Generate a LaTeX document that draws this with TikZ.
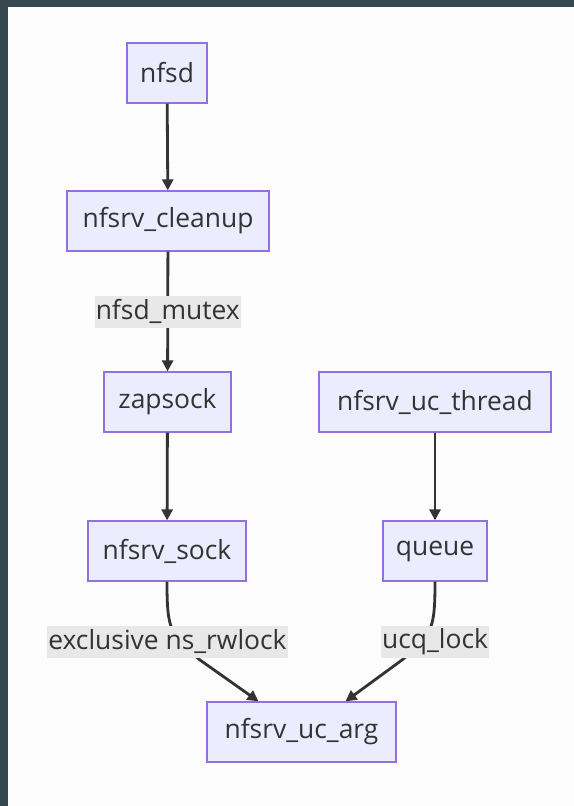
\documentclass[tikz,border=0pt]{standalone}
\usepackage{fontspec}
\setmainfont{Open Sans}
\definecolor{frame}{HTML}{36474F}
\definecolor{canvas}{HTML}{FCFCFC}
\definecolor{nodefill}{HTML}{ECECFF}
\definecolor{nodeline}{HTML}{9370DB}
\definecolor{ink}{HTML}{333333}
\definecolor{labelbg}{HTML}{E8E8E8}
\usetikzlibrary{arrows.meta}

\begin{document}
\begin{tikzpicture}[x=1bp,y=-1bp,>={Triangle[length=11bp,width=11bp]},
  every node/.style={font=\fontsize{26.5}{30}\selectfont,text=ink},
  lockbox/.style={draw=nodeline,fill=nodefill,line width=1.3bp,rectangle,minimum height=60bp,inner xsep=12bp},
  locklabel/.style={fill=labelbg,inner xsep=1bp,inner ysep=2bp,minimum height=32bp},
  edge/.style={->,draw=ink,line width=2.8bp}]
\useasboundingbox (0,0) rectangle (574,806);
\fill[frame] (0,0) rectangle (574,806);
\fill[canvas] (8,7) rectangle (574,806);
\node[lockbox,minimum width=80bp] (nfsd) at (167,73) {nfsd};
\node[lockbox,minimum width=202bp] (cleanup) at (168,221) {nfsrv\_cleanup};
\node[lockbox,minimum width=127bp] (zapsock) at (167.5,402) {zapsock};
\node[lockbox,minimum width=232bp] (ucthread) at (435,402) {nfsrv\_uc\_thread};
\node[lockbox,minimum width=158bp] (sock) at (167,551) {nfsrv\_sock};
\node[lockbox,minimum width=104bp] (queue) at (435,551) {queue};
\node[lockbox,minimum width=189bp] (ucarg) at (301.5,732) {nfsrv\_uc\_arg};
\draw[edge] (nfsd) -- (cleanup);
\draw[edge] (cleanup) -- node[locklabel]{nfsd\_mutex} (zapsock);
\draw[edge] (zapsock) -- (sock);
\draw[edge] (ucthread) -- (queue);
\draw[edge] (sock.south) .. controls (167,630) and (170,635) .. (200,660) -- ([xshift=-43bp]ucarg.north);
\draw[edge] (queue.south) .. controls (435,630) and (432,635) .. (402,660) -- ([xshift=44bp]ucarg.north);
\node[locklabel] (rwlock) at (167.5,641.5) {exclusive ns\_rwlock};
\node[locklabel] (ucqlock) at (435,641.5) {ucq\_lock};
\end{tikzpicture}
\end{document}
